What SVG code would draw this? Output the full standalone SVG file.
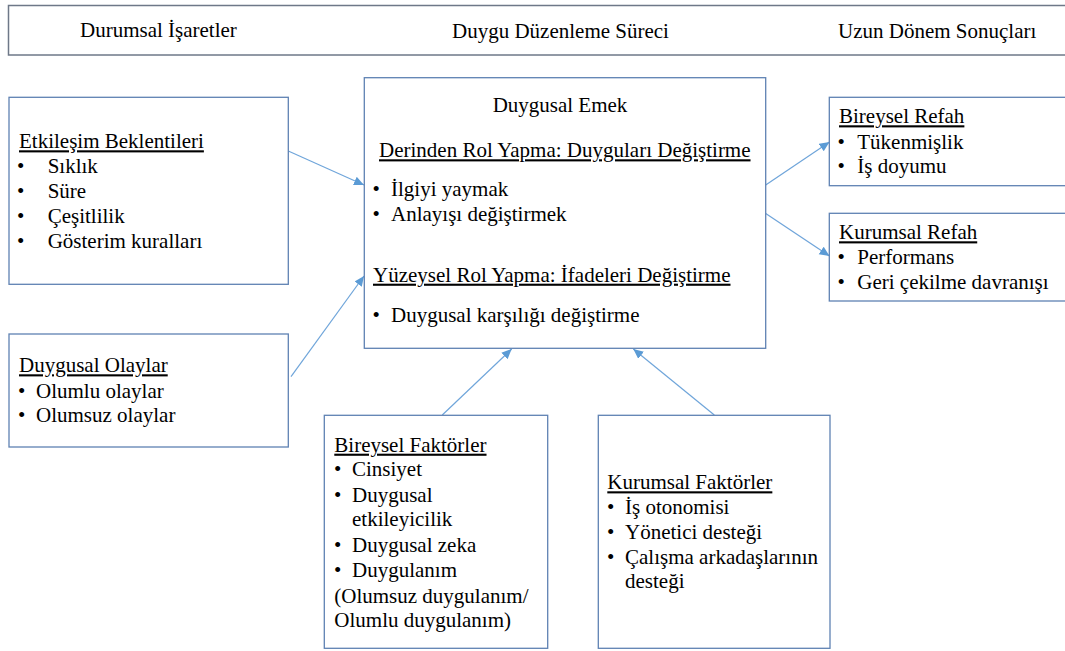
<svg xmlns="http://www.w3.org/2000/svg" width="1065" height="651" viewBox="0 0 1065 651" font-family="'Liberation Serif', Tinos, 'Times New Roman', serif" font-size="21">
<style>
text{font-family:'Liberation Serif',Tinos,'Times New Roman',serif;font-size:21px;fill:#000}
.u{text-decoration:underline}
.box{fill:#fff;stroke:#5f82b3;stroke-width:1.3}
.hdr{fill:#fff;stroke:#6e7888;stroke-width:1.5}
.c{stroke:#6fa5da;stroke-width:1.2;fill:none;marker-end:url(#ah)}
</style>
<defs>
<marker id="ah" markerUnits="userSpaceOnUse" markerWidth="12" markerHeight="10" refX="10" refY="4.5" orient="auto">
<path d="M0,0 L10,4.5 L0,9 Z" fill="#5b9bd5"/>
</marker>
</defs>
<rect width="1065" height="651" fill="#fff"/>
<g id="header">
<rect class="hdr" x="8.5" y="5.5" width="1070" height="49.5"/>
<text x="80" y="36.5">Durumsal İşaretler</text>
<text x="452" y="38">Duygu Düzenleme Süreci</text>
<text x="838" y="38">Uzun Dönem Sonuçları</text>
</g>
<g id="connectors">
<line class="c" x1="288.3" y1="151" x2="364" y2="185"/>
<line class="c" x1="291" y1="376.7" x2="364" y2="276"/>
<line class="c" x1="442.3" y1="415" x2="511.7" y2="349"/>
<line class="c" x1="714.3" y1="415" x2="633.3" y2="349"/>
<line class="c" x1="765.7" y1="185" x2="829.5" y2="142"/>
<line class="c" x1="765.7" y1="213.5" x2="829.5" y2="256"/>
</g>
<g id="etkilesim">
<rect class="box" x="9" y="97.3" width="279.3" height="187"/>
<text class="u" x="19" y="148.3">Etkileşim Beklentileri</text>
<text x="17" y="173.3">•</text><text x="47.7" y="173.3">Sıklık</text>
<text x="17" y="198">•</text><text x="47.7" y="198">Süre</text>
<text x="17" y="223">•</text><text x="47.7" y="223">Çeşitlilik</text>
<text x="17" y="248">•</text><text x="47.7" y="248">Gösterim kuralları</text>
</g>
<g id="olaylar">
<rect class="box" x="9" y="334" width="279.3" height="113"/>
<text class="u" x="19" y="372.3">Duygusal Olaylar</text>
<text x="18" y="397.7">•</text><text x="36" y="397.7">Olumlu olaylar</text>
<text x="18" y="421.7">•</text><text x="36" y="421.7">Olumsuz olaylar</text>
</g>
<g id="emek">
<rect class="box" x="364.3" y="77.7" width="401.4" height="270.6"/>
<text x="560" y="111.7" text-anchor="middle">Duygusal Emek</text>
<text class="u" x="379" y="157.3">Derinden Rol Yapma: Duyguları Değiştirme</text>
<text x="372.5" y="196">•</text><text x="391" y="196">İlgiyi yaymak</text>
<text x="372.5" y="221">•</text><text x="391" y="221">Anlayışı değiştirmek</text>
<text class="u" x="373" y="281.7">Yüzeysel Rol Yapma: İfadeleri Değiştirme</text>
<text x="372.5" y="321.7">•</text><text x="391" y="321.7">Duygusal karşılığı değiştirme</text>
</g>
<g id="bireysel-refah">
<rect class="box" x="829.3" y="97.3" width="250" height="88.4"/>
<text class="u" x="839" y="123.3">Bireysel Refah</text>
<text x="837.5" y="149">•</text><text x="857.3" y="149">Tükenmişlik</text>
<text x="837.5" y="173.3">•</text><text x="857.3" y="173.3">İş doyumu</text>
</g>
<g id="kurumsal-refah">
<rect class="box" x="829.3" y="213.3" width="250" height="87.7"/>
<text class="u" x="839" y="239.3">Kurumsal Refah</text>
<text x="837.5" y="264">•</text><text x="857.3" y="264">Performans</text>
<text x="837.5" y="289">•</text><text x="857.3" y="289">Geri çekilme davranışı</text>
</g>
<g id="bireysel-faktorler">
<rect class="box" x="324.3" y="415.3" width="223.4" height="233"/>
<text class="u" x="334.3" y="451.7">Bireysel Faktörler</text>
<text x="334" y="476">•</text><text x="352" y="476">Cinsiyet</text>
<text x="334" y="501.7">•</text><text x="352" y="501.7">Duygusal</text>
<text x="352" y="526">etkileyicilik</text>
<text x="334" y="551.7">•</text><text x="352" y="551.7">Duygusal zeka</text>
<text x="334" y="576.7">•</text><text x="352" y="576.7">Duygulanım</text>
<text x="334.3" y="602.7">(Olumsuz duygulanım/</text>
<text x="334.3" y="626.7">Olumlu duygulanım)</text>
</g>
<g id="kurumsal-faktorler">
<rect class="box" x="598.3" y="415.3" width="231.7" height="233"/>
<text class="u" x="607.3" y="489.3">Kurumsal Faktörler</text>
<text x="607" y="514">•</text><text x="625" y="514">İş otonomisi</text>
<text x="607" y="539">•</text><text x="625" y="539">Yönetici desteği</text>
<text x="607" y="564.3">•</text><text x="625" y="564.3">Çalışma arkadaşlarının</text>
<text x="625" y="588.3">desteği</text>
</g>
</svg>
